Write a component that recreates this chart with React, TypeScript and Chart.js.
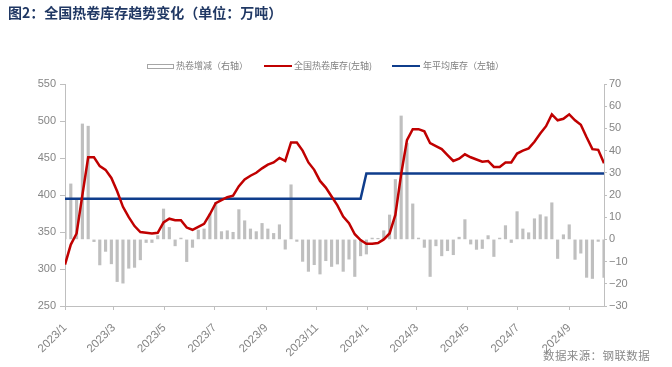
import React, { useEffect, useRef } from 'react';
import { Chart, registerables } from 'chart.js';

Chart.register(...registerables);

// Weekly data, first week 2023-01-05, one point per week
const firstWeek = [2023, 1, 5];

// 全国热卷库存 (万吨, 左轴)
const inventory = [
  306, 333, 348, 400, 451, 451, 439, 434, 423, 405,
  384, 370, 358, 350, 349, 348, 349, 363, 368, 366,
  366, 356, 353, 357, 361, 374, 389, 393, 397, 399,
  412, 421, 426, 430, 436, 441, 444, 450, 446, 471,
  471, 460, 444, 434, 419, 410, 398, 386, 371, 362,
  347, 339, 334, 334, 335, 340, 348, 373, 428, 474,
  489, 489, 486, 470, 466, 462, 454, 446, 449, 455,
  451, 448, 445, 446, 438, 438, 444, 444, 456, 460,
  463, 472, 483, 493, 509, 501, 503, 509, 501, 495,
  478, 462, 461, 443,
];

// 热卷增减 (万吨, 右轴)
const weeklyChange = [
  18.5, 25, 18, 52, 51, -1, -11.5, -5.4, -11, -19,
  -19.7, -13, -12.6, -9.2, -1.4, -1.4, 1.7, 13.7, 5.4, -2.9,
  0.6, -10, -3.6, 4.2, 4.7, 11.4, 16.7, 3.5, 3.9, 3.2,
  13.4, 8.4, 4.7, 3.5, 7.2, 4.7, 2.7, 6.6, -4.4, 24.6,
  -0.9, -9.9, -14.4, -11.4, -15.6, -9.6, -12.2, -11.1, -14.4, -8.9,
  -16.7, -7.4, -6.6, 0.6, 0.5, 3.9, 11, 27, 55.6, 43.3,
  16, 0.6, -3.6, -16.7, -2.9, -7.4, -5.1, -6.9, 1, 8.9,
  -2.1, -4.5, -4.1, 1.7, -7.7, 0.6, 6.2, -1.4, 12.5, 4.7,
  3.0, 9.3, 11.1, 10.2, 16.5, -8.6, 2.1, 6.6, -9.0, -6.2,
  -17.1, -17.6, -0.9, -17.1,
];

// 年平均库存 (万吨, 左轴)
const avgYears = [2023, 2024];
const avgValues = [395, 429];

// x-axis tick labels
const tickLabels = [
  '2023/1', '2023/3', '2023/5', '2023/7', '2023/9', '2023/11',
  '2024/1', '2024/3', '2024/5', '2024/7', '2024/9',
];

const leftTicks = [250, 300, 350, 400, 450, 500, 550];
const rightTicks = [-30, -20, -10, 0, 10, 20, 30, 40, 50, 60, 70];

const DAY = 86400000;
const START = Date.UTC(firstWeek[0], firstWeek[1] - 1, firstWeek[2]);

export default function App() {
  const ref = useRef<HTMLCanvasElement | null>(null);

  useEffect(() => {
    if (!ref.current) return;
    const xs = inventory.map((_, i) => i * 7);
    const years = xs.map((d) => new Date(START + d * DAY).getUTCFullYear());
    const avgSeries = years.map((y) => avgValues[avgYears.indexOf(y)]);
    const tickDays = tickLabels.map((l) => {
      const [y, m] = l.split('/').map(Number);
      return Math.round((Date.UTC(y, m - 1, firstWeek[2]) - START) / DAY);
    });
    const labelOf = (v: number) => {
      const k = tickDays.indexOf(v);
      return k >= 0 ? tickLabels[k] : '';
    };
    const gray = '#bfbfbf';
    const tickColor = '#858585';
    const font = { family: "'Liberation Sans', Arial, sans-serif", size: 11 };

    const chart = new Chart(ref.current, {
      type: 'bar',
      data: {
        datasets: [
          {
            type: 'line',
            label: '全国热卷库存(左轴)',
            data: xs.map((x, i) => ({ x, y: inventory[i] })),
            yAxisID: 'y',
            borderColor: '#c00000',
            backgroundColor: '#c00000',
            borderWidth: 2.5,
            pointRadius: 0,
            tension: 0,
          },
          {
            type: 'line',
            label: '年平均库存（左轴）',
            data: xs.map((x, i) => ({ x, y: avgSeries[i] })),
            yAxisID: 'y',
            borderColor: '#0f3d8c',
            backgroundColor: '#0f3d8c',
            borderWidth: 2.5,
            pointRadius: 0,
            tension: 0,
          },
          {
            type: 'bar',
            label: '热卷增减（右轴）',
            data: xs.map((x, i) => ({ x, y: weeklyChange[i] })),
            yAxisID: 'y1',
            backgroundColor: gray,
            borderWidth: 0,
            barThickness: 2.5,
          },
        ],
      },
      options: {
        animation: false,
        responsive: true,
        maintainAspectRatio: false,
        layout: { padding: { top: 84, left: 0, right: 0, bottom: 0 } },
        plugins: {
          legend: { display: false },
          tooltip: { enabled: false },
          title: { display: false },
        },
        scales: {
          x: {
            type: 'linear',
            offset: false,
            min: 0,
            max: (inventory.length - 1) * 7,
            afterBuildTicks: (s: any) => {
              s.ticks = tickDays.map((v) => ({ value: v }));
            },
            afterFit: (s: any) => {
              s.height = 61;
            },
            ticks: {
              autoSkip: false,
              maxRotation: 45,
              minRotation: 45,
              color: tickColor,
              font: { family: font.family, size: 11.5 },
              padding: 11,
              callback: (v: any) => labelOf(Number(v)),
            },
            grid: {
              display: true,
              offset: false,
              drawOnChartArea: false,
              drawTicks: true,
              tickLength: 4,
              color: gray,
            },
            border: { display: true, color: gray },
          },
          y: {
            position: 'left',
            min: leftTicks[0],
            max: leftTicks[leftTicks.length - 1],
            afterBuildTicks: (s: any) => {
              s.ticks = leftTicks.map((v) => ({ value: v }));
            },
            afterFit: (s: any) => {
              s.width = 65;
            },
            ticks: { color: tickColor, font, padding: 4 },
            grid: {
              display: true,
              drawOnChartArea: false,
              drawTicks: true,
              tickLength: 5,
              color: gray,
            },
            border: { display: true, color: gray },
          },
          y1: {
            position: 'right',
            min: rightTicks[0],
            max: rightTicks[rightTicks.length - 1],
            afterBuildTicks: (s: any) => {
              s.ticks = rightTicks.map((v) => ({ value: v }));
            },
            afterFit: (s: any) => {
              s.width = 68;
            },
            ticks: {
              color: tickColor,
              font,
              padding: 2,
              callback: (v: any) => (Number(v) < 0 ? '\u2212' + Math.abs(Number(v)) : String(v)),
            },
            grid: {
              display: true,
              drawOnChartArea: false,
              drawTicks: true,
              tickLength: 3,
              color: gray,
            },
            border: { display: true, color: gray },
          },
        },
      },
    } as any);
    return () => chart.destroy();
  }, []);

  const legendText: React.CSSProperties = {
    position: 'absolute',
    top: 60,
    fontSize: 9,
    lineHeight: '12px',
    color: '#7f7f7f',
    fontFamily: "'Noto Sans CJK SC', sans-serif",
    whiteSpace: 'nowrap',
  };

  return (
    <div
      style={{
        position: 'fixed',
        left: 0,
        top: 0,
        width: 672,
        height: 367,
        background: '#ffffff',
        overflow: 'hidden',
      }}
    >
      <canvas ref={ref} style={{ position: 'absolute', left: 0, top: 0 }} />
      <div
        style={{
          position: 'absolute',
          left: 8,
          top: 4,
          fontSize: 14,
          lineHeight: '16px',
          fontWeight: 700,
          color: '#203864',
          fontFamily: "'Noto Sans CJK SC', sans-serif",
          whiteSpace: 'nowrap',
        }}
      >
        图2：全国热卷库存趋势变化（单位：万吨）
      </div>
      <div
        style={{
          position: 'absolute',
          left: 147,
          top: 64,
          width: 25,
          height: 3,
          border: '1px solid #a6a6a6',
          background: '#fff',
        }}
      />
      <div style={{ ...legendText, left: 176 }}>热卷增减（右轴）</div>
      <div style={{ position: 'absolute', left: 264, top: 65, width: 28, height: 2, background: '#c00000' }} />
      <div style={{ ...legendText, left: 294 }}>全国热卷库存(左轴)</div>
      <div style={{ position: 'absolute', left: 392, top: 65, width: 28, height: 2, background: '#0f3d8c' }} />
      <div style={{ ...legendText, left: 423 }}>年平均库存（左轴）</div>
      <div
        style={{
          position: 'absolute',
          left: 543,
          top: 348,
          fontSize: 11.5,
          lineHeight: '14px',
          letterSpacing: '0.4px',
          color: '#8a8a8a',
          fontFamily: "'Noto Sans CJK SC', sans-serif",
          whiteSpace: 'nowrap',
        }}
      >
        数据来源：钢联数据
      </div>
    </div>
  );
}
